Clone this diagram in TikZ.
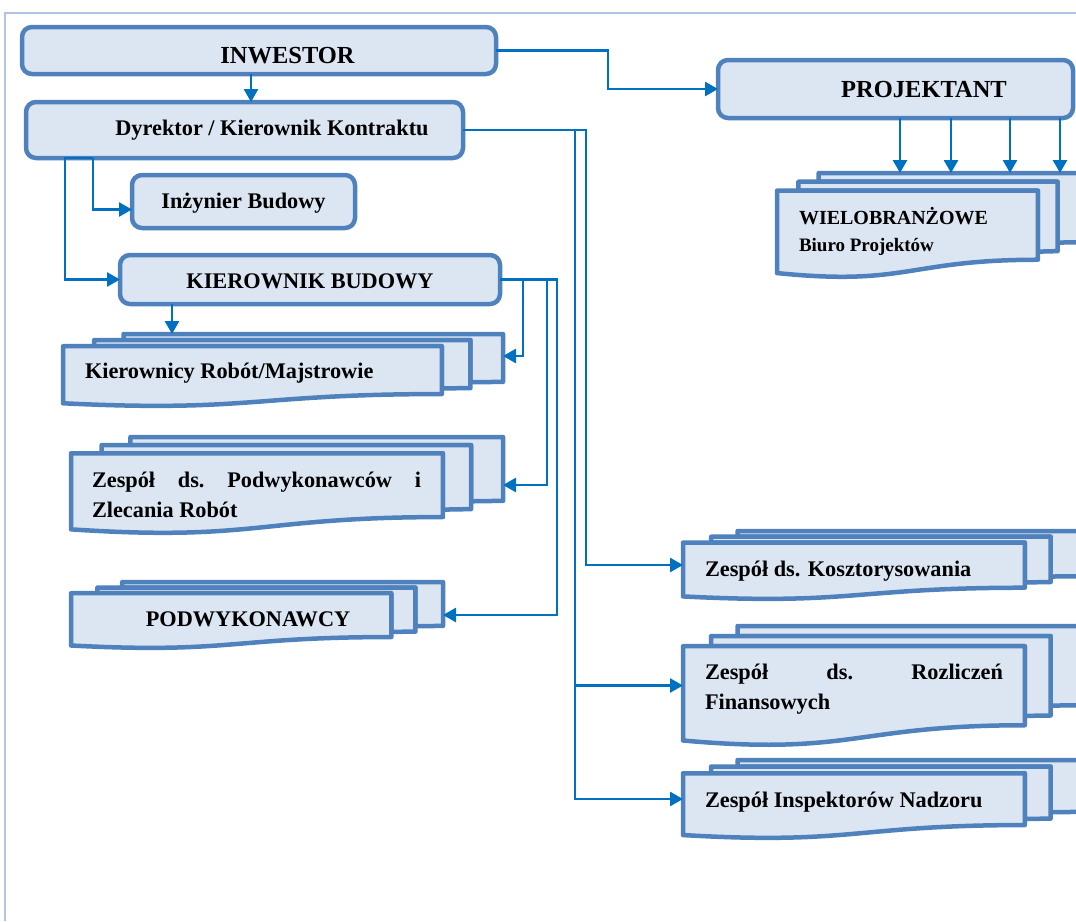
\documentclass[tikz,border=0pt]{standalone}
\usepackage{fontspec}
\setmainfont{Liberation Serif}
\usetikzlibrary{arrows.meta,calc}

\definecolor{boxfill}{RGB}{220,230,242}
\definecolor{boxline}{RGB}{79,129,189}
\definecolor{linkc}{RGB}{0,112,192}
\definecolor{framec}{RGB}{176,196,230}

\tikzset{
  box/.style={draw=boxline, fill=boxfill, line width=4.5pt, rounded corners=10pt,
              inner sep=0pt, outer sep=0pt},
  page/.style={draw=boxline, fill=boxfill, line width=4.5pt, line join=round},
  conn/.style={draw=linkc, line width=2.6pt, -{Triangle[length=13pt,width=14pt]}},
  lbl/.style={inner sep=0pt, outer sep=0pt, anchor=base,
              font=\bfseries\fontsize{22.3}{28}\selectfont},
  lblw/.style={lbl, anchor=base west},
  big/.style={font=\bfseries\fontsize{24.5}{28}\selectfont},
}

% Stack of three pages (front page with wavy bottom edge).
% #1 name, #2 left, #3 top, #4 width, #5 height
\newcommand{\mdocstack}[5]{%
  \begin{scope}[shift={(#2,#3)}, xscale=#4, yscale=#5]
    \draw[page] (0.1376,0.084) -- (0.1376,0) -- (1,0) -- (1,0.666)
      .. controls (0.963,0.666) and (0.926,0.670) .. (0.926,0.670) -- (0.926,0.084) -- cycle;
    \draw[page] (0.0709,0.170) -- (0.0709,0.084) -- (0.926,0.084) -- (0.926,0.752)
      .. controls (0.8935,0.752) and (0.861,0.757) .. (0.861,0.757) -- (0.861,0.170) -- cycle;
    \draw[page] (0,0.170) -- (0.861,0.170) -- (0.861,0.834)
      .. controls (0.4305,0.834) and (0.4305,1.090) .. (0,0.962) -- cycle;
    \node[inner sep=0pt, outer sep=0pt, minimum width=#4pt, minimum height=#5pt,
          anchor=north west] (#1) at (0,0) {};
  \end{scope}}

\begin{document}
\begin{tikzpicture}[x=1pt,y=-1pt]
  \clip (0,0) rectangle (1076,921);
  \fill[white] (0,0) rectangle (1076,921);

  % outer frame
  \draw[framec, line width=1.3pt] (5,921) -- (5,13) -- (1076,13);

  % rounded boxes
  \node[box, minimum width=474pt, minimum height=47pt] (inw) at (259,50.5) {};
  \node[box, minimum width=437pt, minimum height=56pt] (dyr) at (244.5,130) {};
  \node[box, minimum width=223pt, minimum height=53pt] (inz) at (243.5,201.5) {};
  \node[box, minimum width=380pt, minimum height=49pt] (kb)  at (310,279.5) {};
  \node[box, minimum width=355pt, minimum height=58pt] (pj)  at (895.5,89) {};

  \node[lbl, big] (inw-t) at (287.5,63) {INWESTOR};
  \node[lbl] (dyr-t) at (272,135) {Dyrektor / Kierownik Kontraktu};
  \node[lbl] (inz-t) at (243.5,208) {Inżynier Budowy};
  \node[lbl] (kb-t)  at (310,288) {KIEROWNIK BUDOWY};
  \node[lbl, big] (pj-t) at (924,97) {PROJEKTANT};

  % page stacks
  \mdocstack{kr}{63}{334}{440}{72}
  \mdocstack{zp}{71}{437}{432}{96}
  \mdocstack{pw}{71}{582}{372}{66}
  \mdocstack{wb}{777}{173}{303}{104}
  \mdocstack{ks}{683}{531}{397}{68}
  \mdocstack{rz}{683}{626}{397}{119}
  \mdocstack{ip}{683}{760}{397}{78}

  \node[lblw] (kr-t) at (85,378) {Kierownicy Robót/Majstrowie};
  \node[lblw] (zp-t1) at (92,487) {\makebox[329pt][s]{Zespół\hfill ds.\hfill Podwykonawców\hfill i}};
  \node[lblw] (zp-t2) at (92,517) {Zlecania Robót};
  \node[lbl] (pw-t) at (248,626) {PODWYKONAWCY};
  \node[lblw, font=\bfseries\fontsize{20}{24}\selectfont] (wb-t1) at (799,224) {WIELOBRANŻOWE};
  \node[lblw, font=\bfseries\fontsize{19}{24}\selectfont] (wb-t2) at (799,251) {Biuro Projektów};
  \node[lblw] (ks-t) at (705,576) {Zespół ds. Kosztorysowania};
  \node[lblw] (rz-t1) at (705,679) {\makebox[298pt][s]{Zespół\hfill ds.\hfill Rozliczeń}};
  \node[lblw] (rz-t2) at (705,709) {Finansowych};
  \node[lblw] (ip-t) at (705,807) {Zespół Inspektorów Nadzoru};

  % connectors
  \draw[conn] ([xshift=-8pt]inw.south) -- ([xshift=-8pt]inw.south |- dyr.north);
  \draw[conn] (inw.east) -| ($(pj.west)+(-110,0)$) -- (pj.west);

  \draw[conn] ([xshift=-151.5pt]dyr.south) |- ([yshift=-8pt]inz.west);
  \draw[conn] ([xshift=-151.5pt]dyr.south) -- ([xshift=-179.5pt]dyr.south) |- (kb.west);

  \draw[conn] (dyr.east) -| ($(ks.west)+(-97,0)$) -- (ks.west);
  \draw[conn] (dyr.east) -| ($(rz.west)+(-108,0)$) -- (rz.west);
  \draw[conn] (dyr.east) -| ($(ip.west)+(-108,0)$) -- (ip.west);

  \draw[conn] ([xshift=-138pt]kb.south) -- ([xshift=-138pt]kb.south |- kr.north);
  \draw[conn] (kb.east) -| ($([yshift=14pt]kr.east)+(20,0)$) -- ([yshift=14pt]kr.east);
  \draw[conn] (kb.east) -| ($(zp.east)+(44,0)$) -- (zp.east);
  \draw[conn] (kb.east) -| ($(pw.east)+(114,0)$) -- (pw.east);

  \foreach \dx in {4.5,55.5,114.5,164.5}
    \draw[conn] ([xshift=\dx pt]pj.south) -- ([xshift=\dx pt]pj.south |- wb.north);
\end{tikzpicture}
\end{document}
